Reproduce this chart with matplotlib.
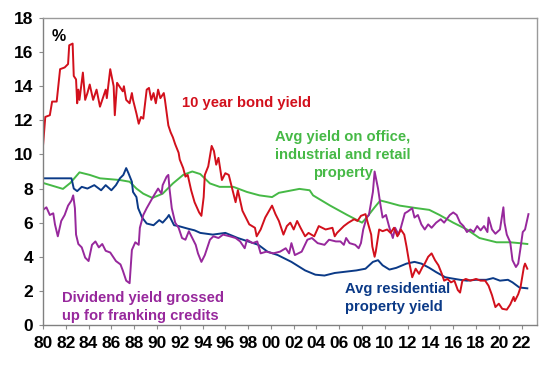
import matplotlib
matplotlib.use("Agg")
import matplotlib.pyplot as plt

# 10 year bond yield
bond_years = [1980.0, 1980.2, 1980.6, 1980.8, 1981.2, 1981.5, 1981.9, 1982.2, 1982.3, 1982.6,
              1982.7, 1982.9, 1983.0, 1983.1, 1983.2, 1983.5, 1983.7, 1983.9, 1984.1, 1984.4,
              1984.7, 1985.0, 1985.3, 1985.5, 1985.6, 1985.9, 1986.2, 1986.3, 1986.5, 1986.8,
              1987.0, 1987.1, 1987.3, 1987.6, 1987.8, 1987.9, 1988.2, 1988.4, 1988.6, 1988.8,
              1989.1, 1989.3, 1989.5, 1989.7, 1989.9, 1990.1, 1990.3, 1990.6, 1990.7, 1991.0,
              1991.2, 1991.4, 1991.6, 1991.9, 1992.0, 1992.3, 1992.5, 1992.7, 1993.0, 1993.3,
              1993.5, 1993.7, 1993.9, 1994.1, 1994.2, 1994.5, 1994.8, 1995.0, 1995.2, 1995.4,
              1995.7, 1996.0, 1996.3, 1996.6, 1996.9, 1997.1, 1997.5, 1998.1, 1998.6, 1998.75,
              1999.1, 1999.5, 2000.1, 2000.4, 2000.7, 2001.1, 2001.4, 2001.7, 2002.0, 2002.3,
              2002.6, 2003.0, 2003.3, 2003.8, 2004.2, 2004.8, 2005.4, 2005.6, 2005.8, 2006.1,
              2006.4, 2006.8, 2007.3, 2007.6, 2007.9, 2008.3, 2008.5, 2008.8, 2008.9, 2009.1,
              2009.2, 2009.5, 2009.8, 2010.2, 2010.5, 2010.8, 2011.1, 2011.4, 2011.7, 2011.9,
              2012.1, 2012.4, 2012.7, 2013.0, 2013.3, 2013.5, 2013.8, 2014.1, 2014.4, 2014.7,
              2015.0, 2015.2, 2015.5, 2015.8, 2016.1, 2016.4, 2016.6, 2016.8, 2017.1, 2017.5,
              2018.0, 2018.4, 2018.8, 2019.1, 2019.4, 2019.7, 2020.0, 2020.3, 2020.7, 2021.0,
              2021.3, 2021.4, 2021.7, 2021.9, 2022.0, 2022.2, 2022.3, 2022.5]
bond_vals = [10.5, 12.2, 12.3, 13.1, 13.1, 15.0, 15.1, 15.3, 16.4, 16.5,
             14.6, 14.4, 13.0, 13.8, 13.2, 14.8, 13.2, 13.6, 14.1, 13.2,
             13.8, 12.8, 13.4, 13.8, 13.3, 15.0, 14.0, 12.3, 14.2, 13.9,
             13.7, 14.0, 13.2, 13.0, 13.6, 13.2, 12.4, 11.8, 12.2, 12.1,
             13.8, 13.9, 13.2, 13.6, 13.0, 13.8, 13.3, 13.6, 13.2, 11.7,
             11.3, 11.0, 10.6, 10.1, 9.7, 9.2, 8.7, 8.8, 7.9, 7.2,
             6.9, 6.6, 6.4, 7.5, 8.8, 9.3, 10.5, 10.2, 9.4, 9.8,
             8.5, 8.9, 8.8, 8.0, 7.2, 7.9, 6.7, 5.9, 5.7, 5.2,
             5.6, 6.3, 7.0, 6.5, 6.1, 5.3, 5.8, 6.0, 5.6, 6.1,
             5.7, 5.2, 5.4, 5.2, 5.8, 5.6, 5.7, 5.2, 5.4, 5.6,
             5.8, 6.0, 6.2, 6.1, 6.4, 6.5, 6.0, 5.3, 4.6, 4.0,
             4.3, 5.6, 5.5, 5.6, 5.4, 5.7, 5.2, 5.6, 5.3, 4.6,
             3.8, 2.8, 3.3, 3.0, 3.4, 3.6, 4.0, 4.2, 3.8, 3.5,
             3.0, 2.6, 2.7, 2.5, 2.6, 2.05, 1.9, 2.6, 2.7, 2.6,
             2.7, 2.6, 2.6, 2.3, 1.75, 1.05, 1.25, 0.95, 0.9, 1.2,
             1.65, 1.4, 1.8, 2.2, 2.6, 3.4, 3.6, 3.3]

# Avg yield on office, industrial and retail property
comm_years = [1980.0, 1980.9, 1981.75, 1982.4, 1983.2, 1984.1, 1985.0, 1986.75, 1987.6, 1988.2,
              1988.8, 1989.6, 1990.5, 1991.4, 1992.3, 1993.1, 1993.8, 1994.65, 1995.5, 1996.7,
              1997.9, 1999.0, 2000.1, 2000.7, 2002.5, 2003.4, 2003.7, 2005.2, 2006.7, 2008.0,
              2008.4, 2009.1, 2009.6, 2010.2, 2011.3, 2012.8, 2013.9, 2014.8, 2016.0, 2017.2,
              2018.3, 2019.8, 2021.0, 2021.8, 2022.5]
comm_vals = [8.33, 8.15, 7.98, 8.33, 8.95, 8.8, 8.6, 8.5, 8.4, 8.0,
             7.7, 7.45, 7.7, 8.3, 8.8, 9.0, 8.85, 8.3, 8.1, 8.1,
             7.8, 7.6, 7.5, 7.75, 7.98, 7.9, 7.6, 7.0, 6.45, 6.0,
             6.3, 6.9, 7.3, 7.2, 7.0, 6.85, 6.75, 6.45, 6.0, 5.6,
             5.1, 4.85, 4.85, 4.8, 4.75]

# Avg residential property yield
resi_years = [1980.0, 1982.5, 1982.7, 1983.0, 1983.4, 1983.9, 1984.5, 1985.1, 1985.5, 1986.0,
              1986.4, 1986.75, 1987.05, 1987.3, 1987.5, 1987.8, 1987.9, 1988.2, 1988.35, 1988.7,
              1989.1, 1989.7, 1990.2, 1990.5, 1990.9, 1991.05, 1991.5, 1991.9, 1992.7, 1993.3,
              1993.8, 1994.9, 1996.0, 1997.1, 1998.9, 1999.7, 2000.6, 2001.8, 2003.0, 2003.9,
              2004.7, 2005.6, 2007.5, 2008.3, 2008.95, 2009.4, 2009.8, 2010.4, 2011.0, 2011.9,
              2012.6, 2013.2, 2013.9, 2014.5, 2015.3, 2015.7, 2016.6, 2017.2, 2018.0, 2018.9,
              2019.5, 2020.1, 2020.8, 2021.2, 2021.8, 2022.5]
resi_vals = [8.6, 8.6, 8.0, 7.85, 8.1, 8.0, 8.2, 7.9, 8.2, 7.9,
             8.2, 8.6, 8.8, 9.2, 8.9, 8.4, 7.8, 7.5, 6.85, 6.3,
             5.95, 5.85, 6.15, 6.0, 6.3, 6.45, 5.85, 5.8, 5.65, 5.55,
             5.4, 5.3, 5.4, 5.1, 4.7, 4.3, 4.1, 3.7, 3.2, 2.95,
             2.9, 3.05, 3.2, 3.3, 3.7, 3.8, 3.5, 3.25, 3.35, 3.6,
             3.7, 3.6, 3.35, 3.1, 2.8, 2.75, 2.65, 2.6, 2.65, 2.65,
             2.75, 2.6, 2.65, 2.5, 2.2, 2.15]

# Dividend yield grossed up for franking credits
div_years = [1980.0, 1980.3, 1980.6, 1980.9, 1981.05, 1981.3, 1981.6, 1981.9, 1982.2, 1982.5,
             1982.65, 1982.8, 1982.9, 1983.1, 1983.4, 1983.7, 1984.0, 1984.3, 1984.6, 1984.9,
             1985.2, 1985.5, 1985.9, 1986.4, 1986.8, 1987.0, 1987.3, 1987.6, 1987.8, 1988.1,
             1988.4, 1988.5, 1988.8, 1989.1, 1989.4, 1989.65, 1990.1, 1990.4, 1990.5, 1990.85,
             1991.0, 1991.1, 1991.3, 1991.6, 1991.9, 1992.2, 1992.5, 1992.8, 1993.1, 1993.4,
             1993.6, 1993.9, 1994.2, 1994.4, 1994.65, 1994.95, 1995.4, 1995.8, 1996.4, 1996.9,
             1997.3, 1997.7, 1997.9, 1998.4, 1998.8, 1999.1, 1999.6, 2000.2, 2000.8, 2001.3,
             2001.6, 2001.8, 2002.1, 2002.7, 2003.2, 2003.6, 2004.1, 2004.7, 2005.1, 2005.7,
             2006.1, 2006.4, 2006.6, 2006.9, 2007.4, 2007.7, 2007.9, 2008.1, 2008.4, 2008.6,
             2008.95, 2009.1, 2009.4, 2009.6, 2009.8, 2010.1, 2010.4, 2010.7, 2010.9, 2011.2,
             2011.4, 2011.75, 2012.0, 2012.4, 2012.6, 2012.9, 2013.2, 2013.5, 2013.8, 2014.1,
             2014.5, 2014.9, 2015.2, 2015.7, 2016.0, 2016.3, 2016.6, 2016.9, 2017.2, 2017.5,
             2017.8, 2018.1, 2018.4, 2018.7, 2019.0, 2019.1, 2019.4, 2019.7, 2020.1, 2020.4,
             2020.5, 2020.7, 2021.0, 2021.2, 2021.5, 2021.7, 2021.9, 2022.1, 2022.3, 2022.6]
div_vals = [6.75, 6.9, 6.45, 6.55, 5.9, 5.2, 6.1, 6.45, 7.0, 7.3,
            7.6, 6.85, 5.3, 4.75, 4.55, 3.95, 3.75, 4.7, 4.9, 4.55,
            4.75, 4.35, 4.25, 3.75, 3.55, 3.2, 2.6, 2.45, 4.4, 4.85,
            4.7, 5.7, 6.45, 6.85, 7.2, 7.5, 8.0, 7.7, 8.2, 8.7,
            8.8, 8.0, 6.85, 6.0, 5.7, 5.1, 5.0, 5.5, 5.1, 4.7,
            4.2, 3.7, 4.1, 4.5, 5.0, 5.2, 5.1, 5.3, 5.2, 5.1,
            4.9, 4.5, 5.0, 4.8, 4.9, 4.2, 4.3, 4.2, 4.3, 4.5,
            4.2, 4.8, 4.1, 4.3, 5.0, 5.1, 4.8, 4.7, 5.0, 4.9,
            4.9, 4.7, 5.1, 4.8, 4.7, 4.5, 4.8, 5.6, 6.3, 6.45,
            7.8, 9.0, 8.0, 7.1, 6.3, 6.45, 5.7, 5.1, 5.7, 5.3,
            5.7, 6.55, 6.65, 6.85, 6.3, 6.45, 5.9, 5.6, 5.9, 5.7,
            6.0, 6.2, 6.0, 6.45, 6.6, 6.45, 6.0, 5.8, 5.45, 5.6,
            5.45, 5.8, 5.55, 5.8, 5.45, 6.3, 5.6, 5.35, 5.6, 6.9,
            6.0, 5.3, 4.85, 3.8, 3.4, 3.6, 4.5, 5.45, 5.6, 6.5]

x_ticks = list(range(1980, 2023, 2))
x_labels = ["%02d" % (y % 100) for y in x_ticks]
y_ticks = list(range(0, 19, 2))

red = "#d2101c"
green = "#46b946"
purple = "#97289c"
blue = "#0b3a87"

plt.rcParams["font.family"] = ["Liberation Sans", "DejaVu Sans"]
plt.rcParams["font.weight"] = "bold"

fig = plt.figure(figsize=(5.48, 3.66), dpi=100)
ax = fig.add_axes([43 / 548, 41 / 366, 494 / 548, 307 / 366])

lw = 1.4
ax.plot(comm_years, comm_vals, color=green, lw=lw)
ax.plot(resi_years, resi_vals, color=blue, lw=lw)
ax.plot(div_years, div_vals, color=purple, lw=lw)
ax.plot(bond_years, bond_vals, color=red, lw=lw)

ax.set_xlim(1980, 2023.35)
ax.set_ylim(0, 18)
ax.set_xticks(x_ticks, labels=x_labels)
ax.set_yticks(y_ticks)
ax.tick_params(axis="both", labelsize=12.5, length=3, width=0.8, color="#8c8c8c", direction="out")
ax.tick_params(axis="x", pad=5)
ax.tick_params(axis="y", pad=4)
for lab in ax.get_xticklabels() + ax.get_yticklabels():
    lab.set_fontweight("bold")

for s in ax.spines.values():
    s.set_color("#9a9a9a")
    s.set_linewidth(1.0)
ax.spines["left"].set_color("#808080")
ax.spines["bottom"].set_color("#808080")

fs = 10.6
ax.text(1981.4, 16.9, "%", fontsize=11.5, fontweight="bold", color="black", ha="center", va="center")
ax.text(1992.2, 13.0, "10 year bond yield", fontsize=fs, fontweight="bold", color=red,
        ha="left", va="center")
ax.text(2006.3, 9.95, "Avg yield on office,\nindustrial and retail\nproperty", fontsize=fs,
        fontweight="bold", color=green, ha="center", va="center", multialignment="center",
        linespacing=1.38)
ax.text(1981.7, 1.05, "Dividend yield grossed\nup for franking credits", fontsize=fs,
        fontweight="bold", color=purple, ha="left", va="center", linespacing=1.38)
ax.text(2006.5, 1.6, "Avg residential\nproperty yield", fontsize=fs, fontweight="bold",
        color=blue, ha="left", va="center", linespacing=1.38)

plt.savefig("out.png", dpi=100)
